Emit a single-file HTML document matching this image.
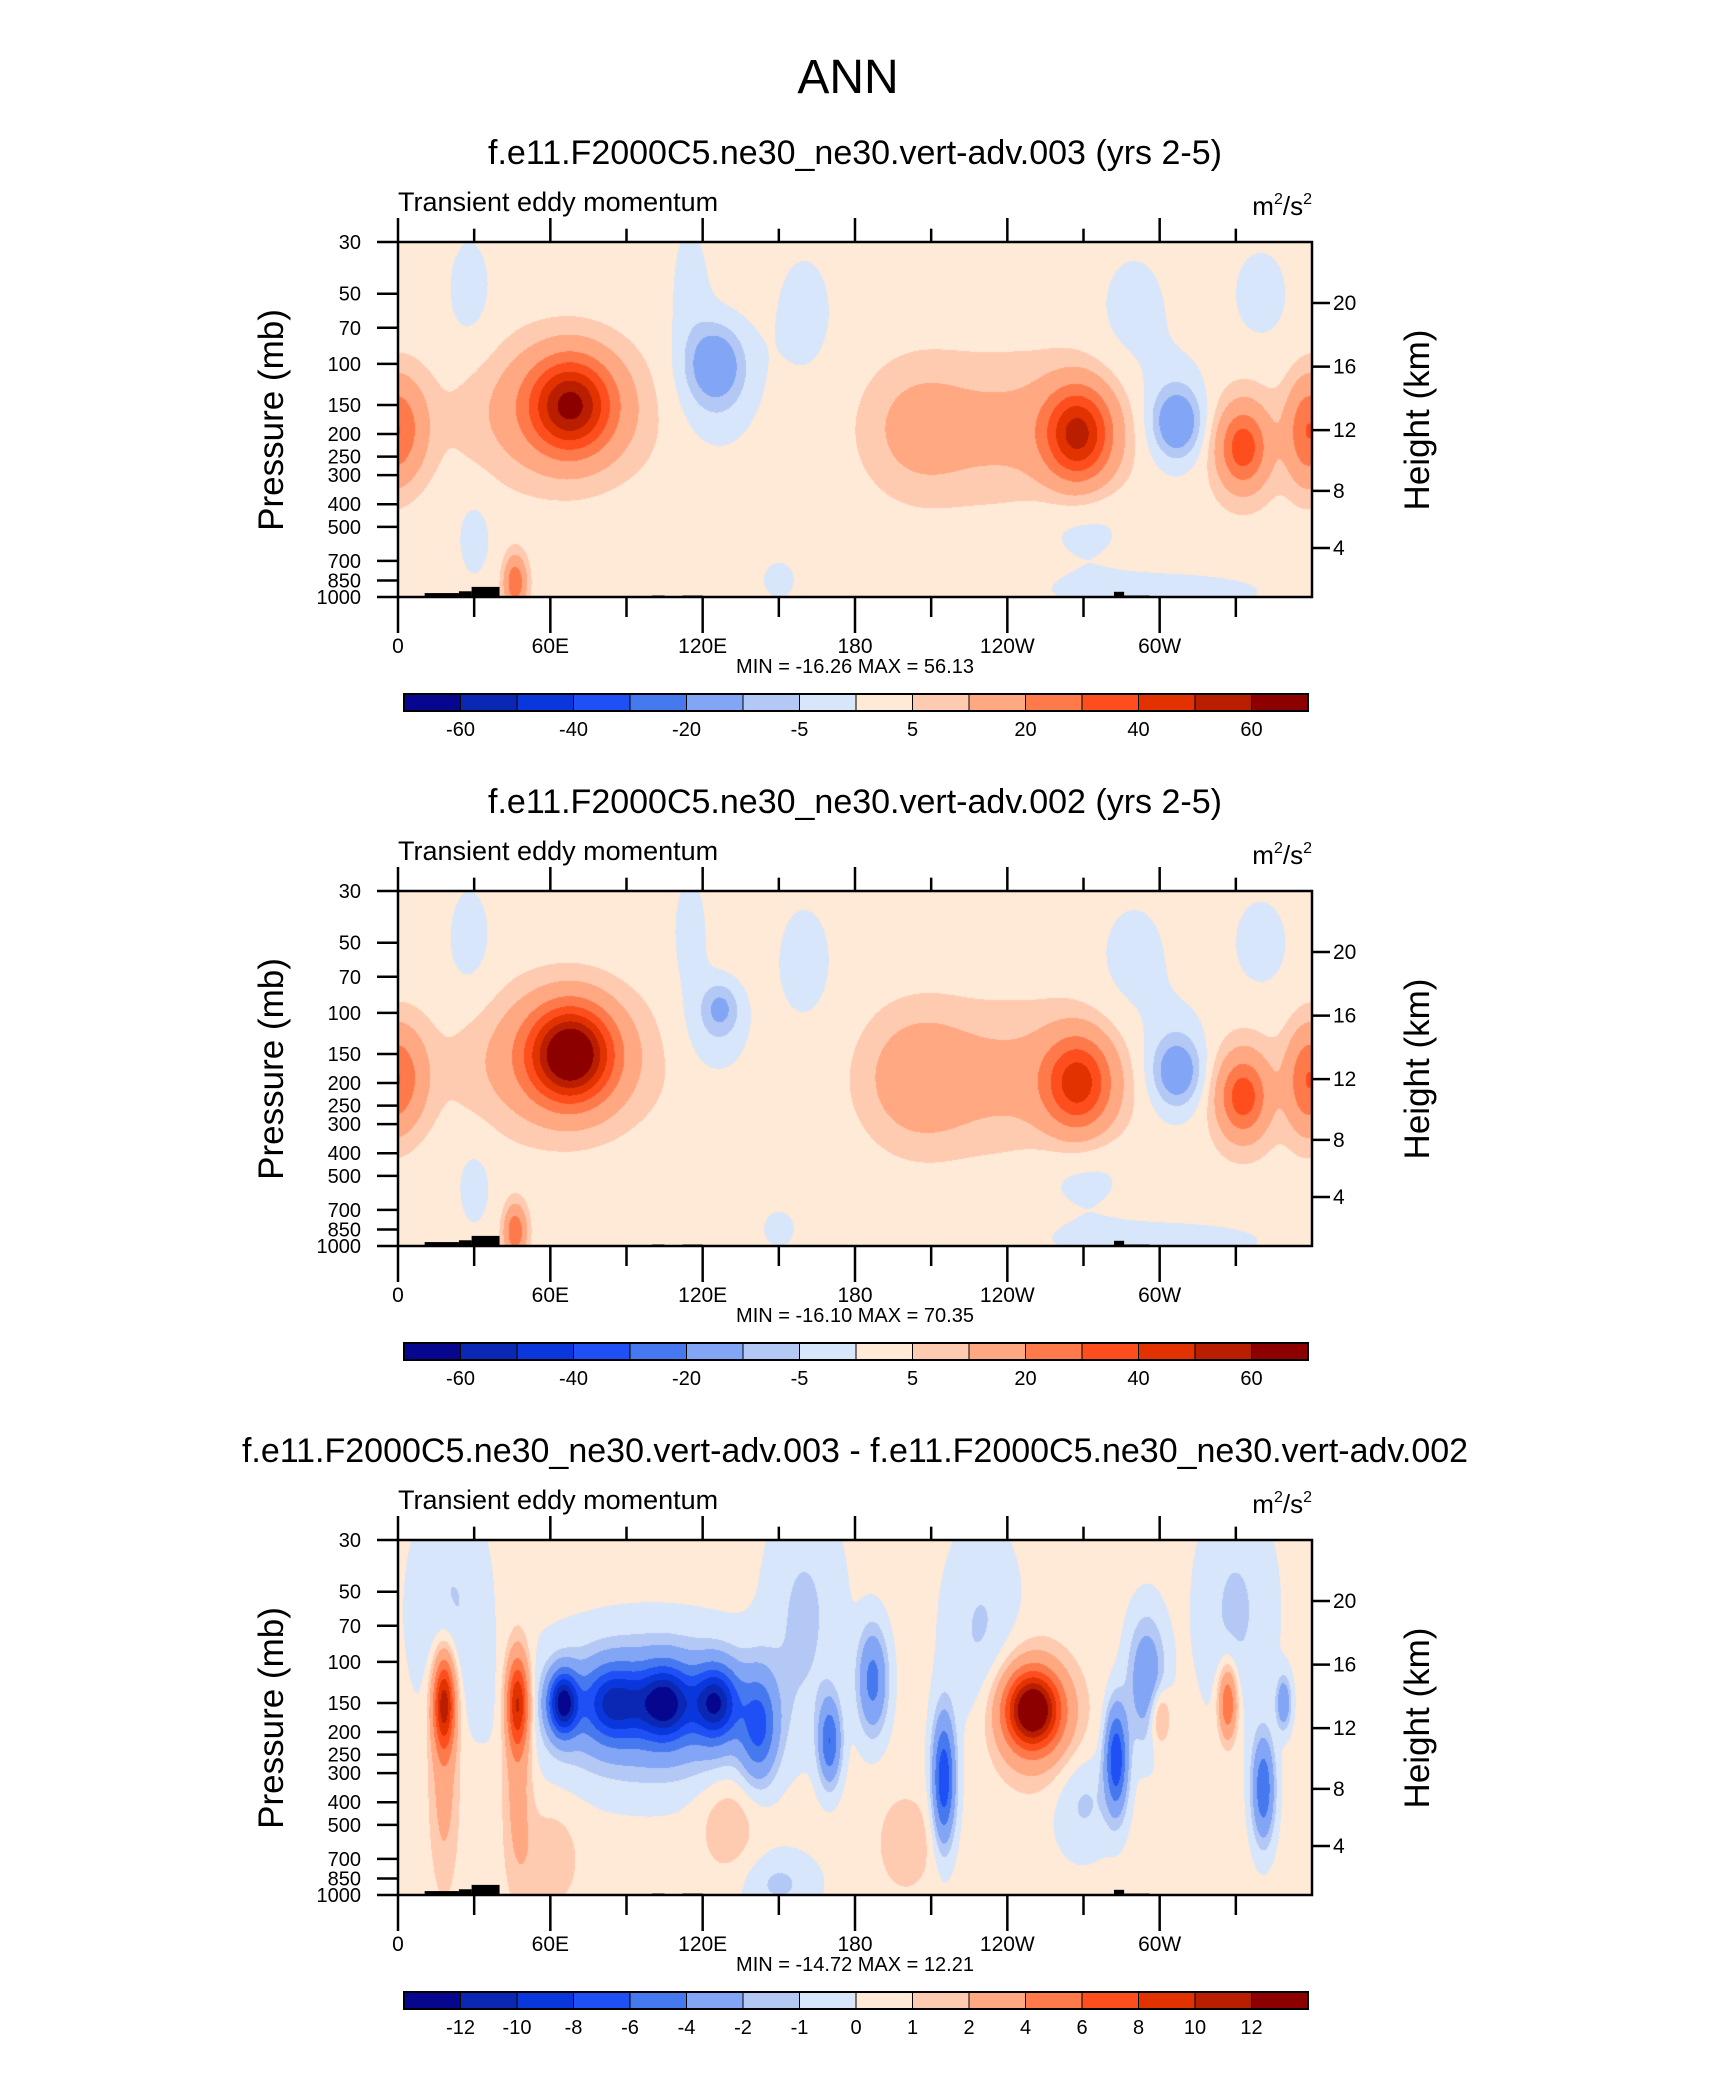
<!DOCTYPE html>
<html><head><meta charset="utf-8"><style>
body{margin:0;background:#fff;width:1710px;height:2074px;overflow:hidden;position:relative;font-family:"Liberation Sans",sans-serif}
canvas{position:absolute}
svg{position:absolute;left:0;top:0}
</style></head><body>
<canvas id="c1" width="914" height="355" style="left:398px;top:242px"></canvas>
<canvas id="c2" width="914" height="355" style="left:398px;top:891px"></canvas>
<canvas id="c3" width="914" height="355" style="left:398px;top:1540px"></canvas>
<svg id="ov" width="1710" height="2074"></svg>
<script>
// ---- data ----
const lonTicks=[0,60,120,180,240,300];
const lonTickLabels=["0","60E","120E","180","120W","60W"];
const pTicks=[30,50,70,100,150,200,250,300,400,500,700,850,1000];
const kmTicks=[20,16,12,8,4];
const kmFrac=[0.172,0.351,0.530,0.701,0.862];
const levelsA=[-60,-50,-40,-30,-20,-10,-5,0,5,10,20,30,40,50,60];
const levelLabelsA=["-60","","-40","","-20","","-5","","5","","20","","40","","60"];
const levelsB=[-12,-10,-8,-6,-4,-2,-1,0,1,2,4,6,8,10,12];
const levelLabelsB=["-12","-10","-8","-6","-4","-2","-1","0","1","2","4","6","8","10","12"];
const colors=["#06068f","#0a28b4","#0a37dc","#1e50f5","#4678f0","#82a5f5","#b4c8f5","#d7e6fa","#ffe9d7","#ffcbb0","#ffa882","#ff7a4b","#ff4e1e","#e13200","#b91e00","#8c0000"];
// plot 1 blobs
const base1=2.5;
const lon1=[2,357,68,62,125,125,205,268,245,307,307,333,333,46,28,160,290,340,300,270,30,150,115];
const p1=[190,200,150,160,100,120,190,200,190,180,170,230,220,870,50,60,60,50,950,500,550,850,45];
const amp1=[18,12,50,13,-15,-7,9,46,10,-15,-8,25,10,26,-4,-4,-4,-4,-4,-4,-4,-4,-4];
const wl1=[7,5,11,24,7,12,14,9,28,6,10,6,10,3,8,10,12,10,40,15,6,6,6];
const wz1=[.1,.1,.09,.13,.07,.13,.12,.09,.13,.06,.11,.07,.11,.05,.15,.15,.15,.12,.05,.08,.1,.05,.15];
// plot 2 blobs
const base2=2.5;
const lon2=[2,357,68,62,127,125,205,268,245,307,307,333,333,46,28,160,290,340,300,270,30,150,115];
const p2=[190,200,150,160,95,120,190,200,190,180,170,230,220,870,50,60,60,50,950,500,550,850,45];
const amp2=[18,12,64,14,-11,-5,13,38,10,-13,-8,25,10,26,-4,-4,-4,-4,-4,-4,-4,-4,-4];
const wl2=[7,5,11,24,5,10,14,9,28,6,10,6,10,3,8,10,12,10,40,15,6,6,6];
const wz2=[.1,.1,.09,.13,.05,.1,.12,.09,.13,.06,.11,.07,.11,.05,.15,.15,.15,.12,.05,.08,.1,.05,.15];
// plot 3 (difference) blobs
const base3=0.3;
const lon3=[18,18,47,47,65,85,105,125,142,100,170,187,215,250,250,283,295,327,349,341,300,20,160,230,330,60,130,200,270,150];
const p3=[150,300,150,300,150,150,150,150,190,160,220,120,320,160,170,260,120,150,150,350,170,60,60,80,60,700,500,600,400,900];
const amp3=[10,2.5,9,2.5,-12,-8,-10,-10,-6,-4.5,-6,-5,-8,12,4,-8,-4,6,-4,-6,3,-1.5,-1.5,-1.5,-1.5,1.5,1.5,1.5,-1.5,-1.5];
const wl3=[3,4,3,4,4,8,7,6,5,28,3,4,3,7,12,3,5,2.5,2,3,3,10,10,10,10,8,8,8,8,10];
const wz3=[.09,.22,.09,.22,.06,.07,.07,.07,.1,.13,.08,.1,.12,.07,.12,.1,.12,.07,.05,.1,.06,.2,.2,.2,.2,.1,.1,.1,.1,.06];
// topography (lon start, lon end, top pressure)
const topoLon0=[10.5,24,29,100,112,282,286,296];
const topoLon1=[24,29,40,105,120,286,296,310];
const topoP=[962,945,905,985,985,950,985,992];
// ---- drawing ----
const L=398,W=914,H=355;
const zP=p=>Math.log(p/30)/Math.log(1000/30);
const xLon=lon=>L+W*lon/360;
function field(base,lo,pp,am,wl,wz,lon,z){let v=base;for(let i=0;i<lo.length;i++){let d=Math.abs(lon-lo[i]);if(d>180)d=360-d;const dz=z-zP(pp[i]);v+=am[i]*Math.exp(-(d*d)/(2*wl[i]*wl[i])-(dz*dz)/(2*wz[i]*wz[i]));}return v;}
function hex(c){return [parseInt(c.substr(1,2),16),parseInt(c.substr(3,2),16),parseInt(c.substr(5,2),16)];}
const rgb=colors.map(hex);
function draw(id,base,lo,pp,am,wl,wz,levels){const cv=document.getElementById(id),ctx=cv.getContext('2d');const img=ctx.createImageData(W,H);
for(let y=0;y<H;y++){const z=y/(H-1);for(let x=0;x<W;x++){const lon=x/(W-1)*360;const v=field(base,lo,pp,am,wl,wz,lon,z);let k=0;while(k<levels.length&&v>=levels[k])k++;const c=rgb[k];const o=(y*W+x)*4;img.data[o]=c[0];img.data[o+1]=c[1];img.data[o+2]=c[2];img.data[o+3]=255;}}
ctx.putImageData(img,0,0);}
draw('c1',base1,lon1,p1,amp1,wl1,wz1,levelsA);
draw('c2',base2,lon2,p2,amp2,wl2,wz2,levelsA);
draw('c3',base3,lon3,p3,amp3,wl3,wz3,levelsB);
const svg=document.getElementById('ov');const NS='http://www.w3.org/2000/svg';
function el(t,a,txt){const e=document.createElementNS(NS,t);for(const k in a)e.setAttribute(k,a[k]);if(txt!==undefined)e.textContent=txt;svg.appendChild(e);return e;}
let e=el('text',{x:848,y:93,'font-size':48,'text-anchor':'middle'},'ANN');


const panels=[{top:242,title:'f.e11.F2000C5.ne30_ne30.vert-adv.003 (yrs 2-5)',mm:'MIN = -16.26  MAX =  56.13',lv:levelLabelsA},
{top:891,title:'f.e11.F2000C5.ne30_ne30.vert-adv.002 (yrs 2-5)',mm:'MIN = -16.10  MAX =  70.35',lv:levelLabelsA},
{top:1540,title:'f.e11.F2000C5.ne30_ne30.vert-adv.003 - f.e11.F2000C5.ne30_ne30.vert-adv.002',mm:'MIN = -14.72  MAX =  12.21',lv:levelLabelsB}];
panels.forEach((pn,i)=>{const T=pn.top,B=T+H;
 e=el('text',{x:855,y:T-78,'font-size':34,'text-anchor':'middle'},pn.title);
 
 
 e=el('text',{x:L,y:T-31,'font-size':27},'Transient eddy momentum');
 
 
 e=el('text',{x:L+W,y:T-27,'font-size':26,'text-anchor':'end'});
 e.innerHTML='m<tspan font-size="16" dy="-11">2</tspan><tspan dy="11">/s</tspan><tspan font-size="16" dy="-11">2</tspan>';
 
 
 topoLon0.forEach((a,k)=>{const y=T+H*zP(topoP[k]);e=el('rect',{x:xLon(a),y:y,width:xLon(topoLon1[k])-xLon(a),height:B-y,fill:'#000'});
  
  });
 e=el('rect',{x:L,y:T,width:W,height:H,fill:'none',stroke:'#000','stroke-width':2.5});
 
 
 for(let lon=0;lon<360;lon+=30){const x=xLon(lon),len=lon%60==0?36:20;
  el('line',{x1:x,x2:x,y1:T,y2:T-len/1.5,stroke:'#000','stroke-width':2.5});
  el('line',{x1:x,x2:x,y1:B,y2:B+len,stroke:'#000','stroke-width':2.5});}
 lonTicks.forEach((lon,j)=>{e=el('text',{x:xLon(lon),y:B+56,'font-size':21,'text-anchor':'middle'},lonTickLabels[j]);
  
  });
 pTicks.forEach(p=>{const y=T+H*zP(p);el('line',{x1:L-21,x2:L,y1:y,y2:y,stroke:'#000','stroke-width':2.5});
  e=el('text',{x:361,y:y+7,'font-size':20,'text-anchor':'end'},String(p));
  
  });
 kmTicks.forEach((k,j)=>{const y=T+H*kmFrac[j];el('line',{x1:L+W,x2:L+W+18,y1:y,y2:y,stroke:'#000','stroke-width':2.5});
  e=el('text',{x:1333,y:y+7,'font-size':21},String(k));
  
  });
 e=el('text',{x:0,y:0,'font-size':35,'text-anchor':'middle',transform:`translate(283,${T+178}) rotate(-90)`},'Pressure (mb)');
 
 
 e=el('text',{x:0,y:0,'font-size':35,'text-anchor':'middle',transform:`translate(1429,${T+178}) rotate(-90)`},'Height (km)');
 
 
 e=el('text',{x:855,y:B+76,'font-size':20,'text-anchor':'middle'},pn.mm);
 
 
 const cx=404,cw=904/16,cy=B+97;
 colors.forEach((c,j)=>{e=el('rect',{x:cx+j*cw,y:cy,width:cw,height:17,fill:c,stroke:'#000','stroke-width':1});
  
  });
 el('rect',{x:cx,y:cy,width:904,height:17,fill:'none',stroke:'#000','stroke-width':2});
 pn.lv.forEach((t,j)=>{if(!t)return;e=el('text',{x:cx+(j+1)*cw,y:B+139,'font-size':20,'text-anchor':'middle'},t);
  
  });
});
</script>
</body></html>
